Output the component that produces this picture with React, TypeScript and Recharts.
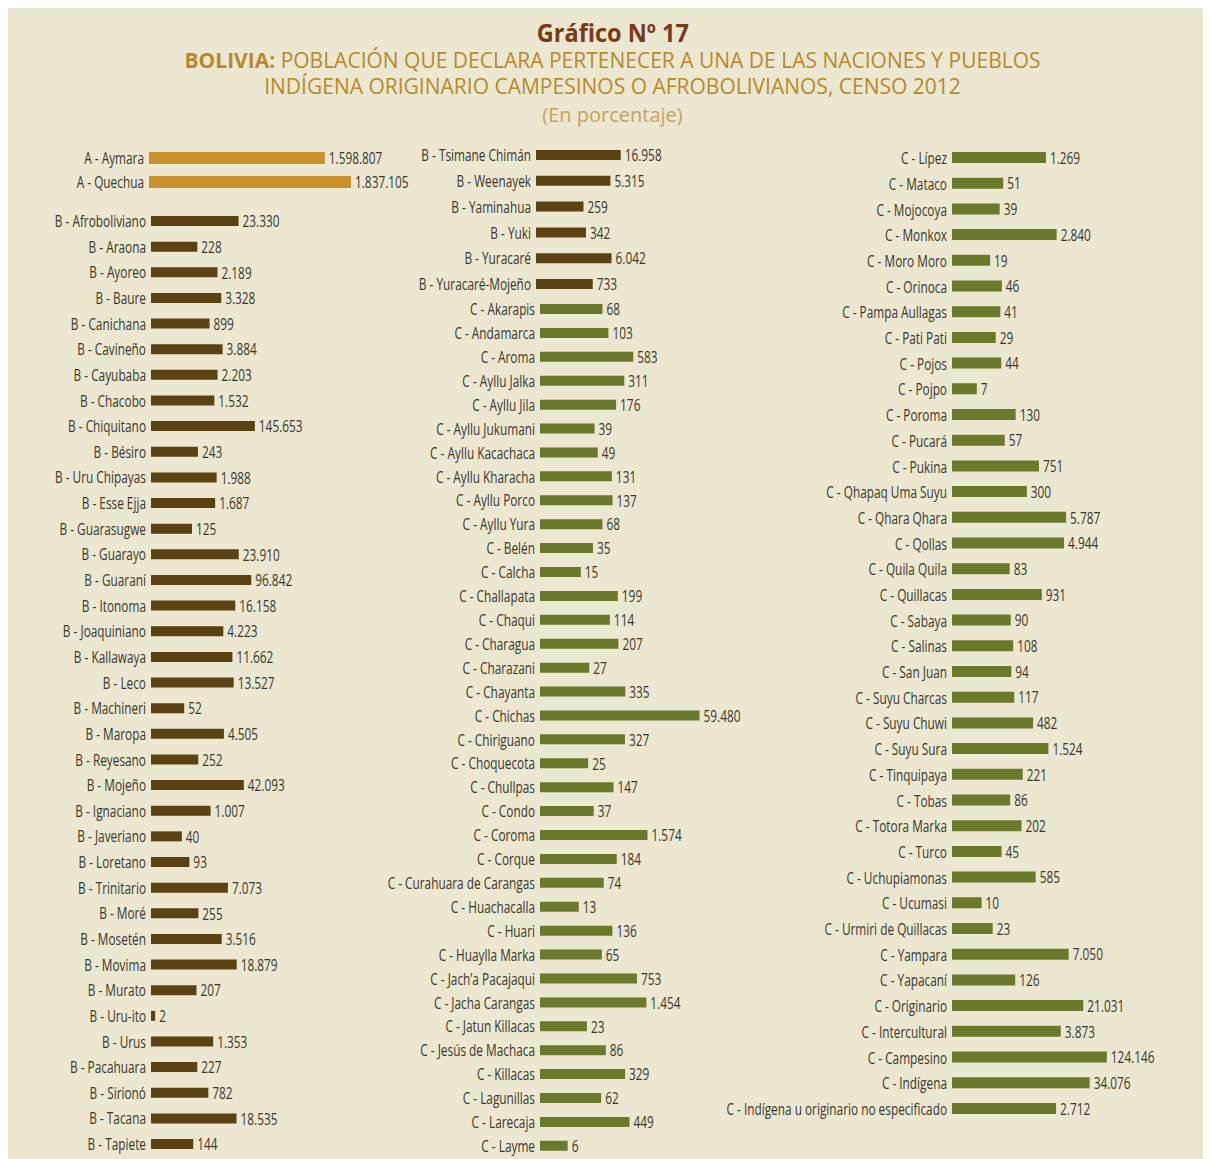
import { BarChart, Bar, XAxis, YAxis, LabelList } from "recharts";

// A - naciones mayoritarias
const nombresA = ["A - Aymara", "A - Quechua"];
const poblacionA = [1598807, 1837105];

// B - columna izquierda
const nombresB1 = [
  "B - Afroboliviano", "B - Araona", "B - Ayoreo", "B - Baure", "B - Canichana",
  "B - Cavineño", "B - Cayubaba", "B - Chacobo", "B - Chiquitano", "B - Bésiro",
  "B - Uru Chipayas", "B - Esse Ejja", "B - Guarasugwe", "B - Guarayo", "B - Guaraní",
  "B - Itonoma", "B - Joaquiniano", "B - Kallawaya", "B - Leco", "B - Machineri",
  "B - Maropa", "B - Reyesano", "B - Mojeño", "B - Ignaciano", "B - Javeriano",
  "B - Loretano", "B - Trinitario", "B - Moré", "B - Mosetén", "B - Movima",
  "B - Murato", "B - Uru-ito", "B - Urus", "B - Pacahuara", "B - Sirionó",
  "B - Tacana", "B - Tapiete",
];
const poblacionB1 = [
  23330, 228, 2189, 3328, 899,
  3884, 2203, 1532, 145653, 243,
  1988, 1687, 125, 23910, 96842,
  16158, 4223, 11662, 13527, 52,
  4505, 252, 42093, 1007, 40,
  93, 7073, 255, 3516, 18879,
  207, 2, 1353, 227, 782,
  18535, 144,
];

// B - columna central
const nombresB2 = [
  "B - Tsimane Chimán", "B - Weenayek", "B - Yaminahua", "B - Yuki", "B - Yuracaré",
  "B - Yuracaré-Mojeño",
];
const poblacionB2 = [16958, 5315, 259, 342, 6042, 733];

// C - columna central
const nombresC2 = [
  "C - Akarapis", "C - Andamarca", "C - Aroma", "C - Ayllu Jalka", "C - Ayllu Jila",
  "C - Ayllu Jukumani", "C - Ayllu Kacachaca", "C - Ayllu Kharacha", "C - Ayllu Porco",
  "C - Ayllu Yura", "C - Belén", "C - Calcha", "C - Challapata", "C - Chaqui",
  "C - Charagua", "C - Charazani", "C - Chayanta", "C - Chichas", "C - Chiriguano",
  "C - Choquecota", "C - Chullpas", "C - Condo", "C - Coroma", "C - Corque",
  "C - Curahuara de Carangas", "C - Huachacalla", "C - Huari", "C - Huaylla Marka",
  "C - Jach’a Pacajaqui", "C - Jacha Carangas", "C - Jatun Killacas",
  "C - Jesús de Machaca", "C - Killacas", "C - Lagunillas", "C - Larecaja", "C - Layme",
];
const poblacionC2 = [
  68, 103, 583, 311, 176,
  39, 49, 131, 137,
  68, 35, 15, 199, 114,
  207, 27, 335, 59480, 327,
  25, 147, 37, 1574, 184,
  74, 13, 136, 65,
  753, 1454, 23,
  86, 329, 62, 449, 6,
];

// C - columna derecha
const nombresC3 = [
  "C - Lípez", "C - Mataco", "C - Mojocoya", "C - Monkox", "C - Moro Moro",
  "C - Orinoca", "C - Pampa Aullagas", "C - Pati Pati", "C - Pojos", "C - Pojpo",
  "C - Poroma", "C - Pucará", "C - Pukina", "C - Qhapaq Uma Suyu", "C - Qhara Qhara",
  "C - Qollas", "C - Quila Quila", "C - Quillacas", "C - Sabaya", "C - Salinas",
  "C - San Juan", "C - Suyu Charcas", "C - Suyu Chuwi", "C - Suyu Sura", "C - Tinquipaya",
  "C - Tobas", "C - Totora Marka", "C - Turco", "C - Uchupiamonas", "C - Ucumasi",
  "C - Urmiri de Quillacas", "C - Yampara", "C - Yapacaní", "C - Originario",
  "C - Intercultural", "C - Campesino", "C - Indígena",
  "C - Indígena u originario no especificado",
];
const poblacionC3 = [
  1269, 51, 39, 2840, 19,
  46, 41, 29, 44, 7,
  130, 57, 751, 300, 5787,
  4944, 83, 931, 90, 108,
  94, 117, 482, 1524, 221,
  86, 202, 45, 585, 10,
  23, 7050, 126, 21031,
  3873, 124146, 34076,
  2712,
];

const BG = "#ebe7d1";
const TEXT = "#3b372c";
const ORANGE = "#c8912c";
const BROWN = "#5a4213";
const OLIVE = "#6b7a2a";
const FONT = "'Open Sans', sans-serif";
const SQUEEZE = 0.74; // the original uses a condensed face
const LABEL_SIZE = 16;

const fmt = (v: any) => String(v).replace(/\B(?=(\d{3})+(?!\d))/g, ".");

const NameTick = (props: any) => {
  const { x, y, payload } = props;
  return (
    <text
      transform={`translate(${x},${y}) scale(${SQUEEZE},1)`}
      textAnchor="end"
      dominantBaseline="central"
      fill={TEXT}
      fontSize={LABEL_SIZE}
      fontFamily={FONT}
    >
      {payload.value}
    </text>
  );
};

const ValueLabel = (props: any) => {
  const { x, y, width, height, value } = props;
  const tx = Number(x) + Number(width) + 4;
  const ty = Number(y) + Number(height) / 2;
  return (
    <text
      transform={`translate(${tx},${ty}) scale(${SQUEEZE},1)`}
      textAnchor="start"
      dominantBaseline="central"
      fill={TEXT}
      fontSize={LABEL_SIZE}
      fontFamily={FONT}
    >
      {fmt(value)}
    </text>
  );
};

interface PanelProps {
  names: string[];
  values: number[];
  color: string;
  left: number;
  top: number;
  rowH: number;
  labelW: number;
  plotW: number;
  scale: "log" | "linear";
  domain: [number, number];
  barSize: number;
}

function Panel({ names, values, color, left, top, rowH, labelW, plotW, scale, domain, barSize }: PanelProps) {
  const data = names.map((name, i) => ({ name, value: values[i] }));
  const right = 75;
  return (
    <div style={{ position: "absolute", left, top }}>
      <BarChart
        width={labelW + plotW + right}
        height={rowH * names.length}
        data={data}
        layout="vertical"
        margin={{ top: 0, right, bottom: 0, left: 0 }}
        barCategoryGap={0}
      >
        <XAxis type="number" scale={scale} domain={domain} allowDataOverflow hide />
        <YAxis
          type="category"
          dataKey="name"
          width={labelW}
          axisLine={false}
          tickLine={false}
          tickSize={0}
          tickMargin={5}
          interval={0}
          tick={<NameTick />}
        />
        <Bar dataKey="value" fill={color} barSize={barSize} isAnimationActive={false}>
          <LabelList dataKey="value" content={<ValueLabel />} />
        </Bar>
      </BarChart>
    </div>
  );
}

// log panels: domain max derived from pixels per decade
const logMax = (min: number, plotW: number, perDecade: number) => min * Math.pow(10, plotW / perDecade);

const line = (top: number, size: number, color: string, sx: number, bold = false) => ({
  wrap: { position: "absolute" as const, top, left: 0, width: 1209, textAlign: "center" as const, lineHeight: `${size}px`, height: size },
  span: {
    display: "inline-block",
    transform: `scaleX(${sx})`,
    fontSize: size,
    color,
    fontWeight: bold ? 700 : 400,
    whiteSpace: "nowrap" as const,
  },
});

export default function App() {
  const t0 = line(12, 25, "#7a3a14", 0.94, true);
  const t1 = line(42, 21, "#b88a2b", 1.0);
  const t2 = line(68, 21, "#b88a2b", 1.0);
  const t3 = line(97, 20, "#c7a461", 1.0);
  return (
    <div
      style={{
        position: "relative",
        width: 1195,
        height: 1151,
        background: BG,
        fontFamily: FONT,
        overflow: "hidden",
      }}
    >
      <div style={t0.wrap}>
        <span style={t0.span}>Gráfico Nº 17</span>
      </div>
      <div style={t1.wrap}>
        <span style={t1.span}>
          <b>BOLIVIA:</b> POBLACIÓN QUE DECLARA PERTENECER A UNA DE LAS NACIONES Y PUEBLOS
        </span>
      </div>
      <div style={t2.wrap}>
        <span style={t2.span}>INDÍGENA ORIGINARIO CAMPESINOS O AFROBOLIVIANOS, CENSO 2012</span>
      </div>
      <div style={t3.wrap}>
        <span style={t3.span}>(En porcentaje)</span>
      </div>

      <Panel
        names={nombresA}
        values={poblacionA}
        color={ORANGE}
        left={12}
        top={138}
        rowH={24}
        labelW={129}
        plotW={202}
        scale="linear"
        domain={[0, 1837105]}
        barSize={12}
      />
      <Panel
        names={nombresB1}
        values={poblacionB1}
        color={BROWN}
        left={12}
        top={200.2}
        rowH={25.64}
        labelW={131}
        plotW={150}
        scale="log"
        domain={[1.25, logMax(1.25, 150, 20.5)]}
        barSize={10}
      />
      <Panel
        names={nombresB2}
        values={poblacionB2}
        color={BROWN}
        left={382}
        top={134.1}
        rowH={25.8}
        labelW={146}
        plotW={150}
        scale="log"
        domain={[1.25, logMax(1.25, 150, 20.5)]}
        barSize={10}
      />
      <Panel
        names={nombresC2}
        values={poblacionC2}
        color={OLIVE}
        left={372}
        top={289}
        rowH={23.91}
        labelW={160}
        plotW={170}
        scale="log"
        domain={[0.87, logMax(0.87, 170, 33)]}
        barSize={10}
      />
      <Panel
        names={nombresC3}
        values={poblacionC3}
        color={OLIVE}
        left={704}
        top={137.15}
        rowH={25.7}
        labelW={240}
        plotW={165}
        scale="log"
        domain={[1.08, logMax(1.08, 165, 30.6)]}
        barSize={11}
      />
    </div>
  );
}
